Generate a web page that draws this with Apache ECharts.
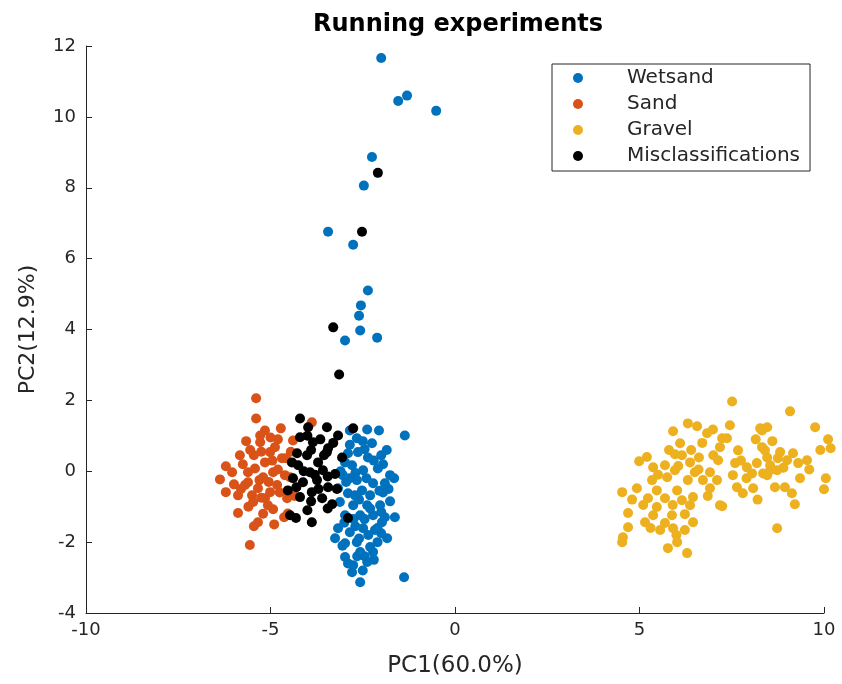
<!DOCTYPE html>
<html>
<head>
<meta charset="utf-8">
<script src="https://cdn.jsdelivr.net/npm/echarts@6/dist/echarts.min.js"></script>
<style>html,body{margin:0;padding:0;background:#fff;}#c{width:842px;height:684px;}</style>
</head>
<body>
<div id="c"></div>
<script>
var seriesNames = ['Wetsand', 'Sand', 'Gravel', 'Misclassifications'];
var xTicks = [-10, -5, 0, 5, 10];
var yTicks = [-4, -2, 0, 2, 4, 6, 8, 10, 12];

var wetsand = [
  [-2.0,11.66],[-1.54,10.45],[-1.30,10.6],[-0.51,10.17],[-2.25,8.87],[-2.47,8.06],
  [-3.44,6.76],[-2.76,6.39],[-2.36,5.1],[-2.55,4.68],[-2.6,4.39],[-2.57,3.97],[-2.98,3.69],[-2.11,3.77],
  [-2.38,1.18],[-2.06,1.15],[-1.36,1.01],[-2.85,1.15],[-2.66,0.93],[-2.25,0.79],[-2.90,0.51],[-2.63,0.54],
  [-2.36,0.39],[-2.09,0.08],[-1.76,-0.11],[-2.79,0.17],[-2.49,0.03],[-3.04,-0.11],[-2.66,-0.25],[-2.22,-0.34],
  [-1.90,-0.34],[-3.17,-0.48],[-2.90,-0.62],[-2.52,-0.54],[-1.76,-0.85],[-3.12,-0.87],[-2.76,-0.96],[-2.38,-0.96],
  [-2.57,-1.24],[-2.22,-1.24],[-1.98,-1.44],[-1.63,-1.30],[-3.17,-1.61],[-2.85,-1.72],[-2.49,-1.61],[-2.17,-1.66],
  [-3.25,-1.89],[-1.84,-1.89],[-2.98,-2.03],[-2.66,-2.00],[-2.30,-2.14],[-2.98,-2.42],[-2.57,-2.28],[-2.22,-2.28],
  [-2.76,-2.65],[-2.38,-2.56],[-2.79,-2.85],[-2.57,-3.13],[-1.38,-2.99],[-2.98,0.25],[-2.71,-0.68],[-2.30,-0.68],
  [-2.03,-0.96],[-2.98,-1.24],[-2.45,0.62],[-2.0,0.45],[-1.95,-0.6],[-2.6,-1.9],[-2.1,-2.0],
  [-2.85,0.75],[-2.5,0.85],[-2.2,0.3],[-1.95,0.2],[-2.7,-0.05],[-2.4,-0.2],[-2.05,-0.55],[-1.8,-0.5],
  [-2.95,-0.3],[-2.6,-0.8],[-2.3,-1.05],[-2.0,-1.15],[-2.75,-1.35],[-2.45,-1.35],[-2.1,-1.6],[-1.9,-1.3],
  [-3.0,-1.45],[-2.7,-1.55],[-2.35,-1.8],[-2.0,-1.75],[-3.05,-2.1],[-2.45,-2.4],[-2.65,-2.4],[-2.9,-2.6],
  [-2.5,-2.8],[-2.2,-2.5],[-3.1,0.0],[-2.85,-0.2],[-1.85,0.6],[-1.65,-0.2]
];
var sand = [
  [-5.39,2.06],[-5.39,1.49],[-5.15,1.15],[-4.72,1.21],[-5.66,0.85],[-5.28,0.82],[-4.88,0.68],[-5.01,0.54],
  [-6.21,0.14],[-6.37,-0.23],[-5.99,-0.37],[-6.21,-0.59],[-5.88,-0.68],[-5.61,-0.31],[-5.42,0.08],[-5.15,0.25],
  [-4.69,0.37],[-4.93,-0.03],[-4.61,-0.11],[-5.34,-0.48],[-5.15,-0.76],[-5.47,-0.87],[-4.93,-1.07],[-5.88,-1.18],
  [-5.34,-1.44],[-4.63,-1.30],[-4.55,-0.76],[-5.56,-2.08],[-5.69,-0.39],[-5.50,-0.68],[-5.20,-0.17],[-4.82,-0.39],
  [-5.01,-0.59],[-5.61,-0.03],[-5.28,1.01],[-4.39,0.87],[-3.88,1.38],[-4.58,0.37],[-4.47,-0.17],[-4.53,-1.19],
  [-5.83,0.45],[-6.04,-0.03],[-5.07,-0.96],[-4.80,0.05],[-5.45,0.45],
  [-5.0,0.95],[-4.8,0.9],[-5.55,0.6],[-5.25,0.55],[-4.95,0.3],[-5.75,0.2],[-5.3,-0.25],[-5.05,-0.3],
  [-5.8,-0.5],[-5.25,-0.75],[-4.75,-0.6],[-5.6,-1.0],[-5.2,-1.2],[-4.9,-1.5],[-5.45,-1.55],[-4.45,0.55],[-4.35,-0.7]
];
var gravel = [
  [6.31,1.35],[6.56,1.27],[6.99,1.18],[5.91,1.13],[6.83,1.07],[6.10,0.79],[7.24,0.93],[7.18,0.68],
  [5.96,0.48],[6.15,0.45],[6.61,0.39],[7.13,0.31],[4.99,0.28],[6.37,0.25],[5.37,0.11],[5.69,0.17],
  [5.96,0.03],[6.50,-0.03],[6.91,-0.03],[5.34,-0.25],[5.75,-0.17],[6.31,-0.25],[6.72,-0.25],[7.10,-0.25],
  [4.53,-0.59],[4.93,-0.48],[5.47,-0.54],[6.02,-0.54],[6.91,-0.48],[6.45,-0.73],[5.23,-0.76],[5.69,-0.76],
  [6.15,-0.82],[6.37,-0.96],[5.47,-1.01],[7.18,-0.96],[4.69,-1.18],[5.37,-1.24],[5.88,-1.24],[6.23,-1.21],
  [5.15,-1.44],[5.69,-1.46],[6.45,-1.44],[4.69,-1.58],[5.56,-1.66],[5.91,-1.61],[6.23,-1.66],[4.55,-1.86],
  [6.02,-2.00],[4.53,-2.00],[5.77,-2.17],[6.29,-2.31],
  [7.51,1.97],[9.08,1.69],[9.76,1.24],[8.27,1.21],[7.45,1.30],[8.46,1.24],[10.11,0.90],[10.18,0.65],
  [7.37,0.93],[7.67,0.59],[8.32,1.15],[8.32,0.68],[8.40,0.59],[8.81,0.54],[9.16,0.51],[9.54,0.31],
  [7.59,0.23],[7.91,0.11],[8.18,0.23],[8.54,0.17],[9.00,0.31],[9.30,0.23],[7.53,-0.11],[8.05,-0.06],
  [8.35,-0.06],[8.73,0.03],[7.64,-0.45],[7.80,-0.62],[8.08,-0.48],[8.67,-0.45],[8.94,-0.45],[9.13,-0.62],
  [10.05,-0.20],[10.0,-0.51],[7.24,-0.99],[9.21,-0.93],[8.73,-1.61],[8.46,0.39],[8.75,0.37],[8.54,0.03],
  [8.46,-0.11],
  [5.2,0.4],[5.5,-0.1],[5.8,0.6],[6.05,0.15],[6.4,0.6],[6.7,0.8],[6.6,0.05],[5.1,-0.95],
  [5.9,-0.95],[5.3,-1.6],[6.0,-1.8],[4.8,-0.8],[6.85,-0.7],[7.0,0.45],[7.75,0.3],[8.15,0.9],
  [8.6,0.85],[8.9,0.1],[9.35,-0.2],[7.9,-0.2],[8.2,-0.8],[9.6,0.05],[9.9,0.6]
];
var misclassifications = [
  [-2.09,8.42],[-2.52,6.76],[-3.3,4.06],[-3.14,2.73],
  [-4.20,1.49],[-3.98,1.24],[-3.47,1.24],[-3.17,1.01],[-2.76,1.21],[-4.20,0.96],[-3.85,0.82],[-3.44,0.65],
  [-4.28,0.51],[-4.01,0.45],[-3.06,0.39],[-3.71,0.25],[-4.25,0.17],[-3.58,0.03],[-3.93,-0.03],[-3.25,-0.08],
  [-4.39,-0.20],[-4.12,-0.31],[-3.74,-0.25],[-3.44,-0.45],[-4.53,-0.54],[-3.88,-0.59],[-4.20,-0.73],[-3.60,-0.76],
  [-3.33,-0.93],[-4.47,-1.24],[-4.31,-1.32],[-3.88,-1.44],[-2.90,-1.32],[-3.47,0.54],[-4.42,0.25],
  [-4.0,1.0],[-3.65,0.9],[-3.3,0.8],[-3.9,0.6],[-3.55,0.45],[-4.1,0.0],[-3.8,-0.1],[-3.45,-0.15],
  [-4.3,-0.45],[-3.7,-0.5],[-3.9,-0.85],[-3.45,-1.05],[-4.0,-1.1],[-3.2,-0.5]
];

var colors = ['#0072BD', '#D95319', '#EDB120', '#000000'];
var dataSets = [wetsand, sand, gravel, misclassifications];
var font = 'DejaVu Sans';
var textColor = '#262626';

var chart = echarts.init(document.getElementById('c'), null, {renderer: 'canvas'});
chart.setOption({
  animation: false,
  backgroundColor: '#ffffff',
  color: colors,
  title: {
    text: 'Running experiments',
    left: 308,
    top: 8,
    textStyle: {fontFamily: font, fontSize: 24, fontWeight: 'bold', color: '#000'}
  },
  legend: {
    orient: 'vertical',
    left: 552,
    top: 64,
    data: seriesNames.map(function (n) { return {name: n, icon: 'circle'}; }),
    itemWidth: 10,
    itemHeight: 10,
    itemGap: 6,
    padding: [4, 10, 5, 21],
    borderColor: '#262626',
    borderWidth: 1,
    backgroundColor: '#fff',
    textStyle: {fontFamily: font, fontSize: 20, color: textColor, lineHeight: 18, padding: [0, 0, 0, 39]}
  },
  grid: {left: 86, right: 18, top: 46, bottom: 71, containLabel: false},
  xAxis: {
    type: 'value',
    min: xTicks[0], max: xTicks[xTicks.length - 1], interval: 5,
    name: 'PC1(60.0%)',
    nameLocation: 'middle',
    nameGap: 42,
    nameTextStyle: {fontFamily: font, fontSize: 23, color: textColor},
    axisLine: {show: true, onZero: false, lineStyle: {color: '#262626', width: 1}},
    axisTick: {show: true, inside: true, length: 6, lineStyle: {color: '#262626'}},
    axisLabel: {fontFamily: font, fontSize: 18, color: textColor, margin: 8},
    splitLine: {show: false}
  },
  yAxis: {
    type: 'value',
    min: yTicks[0], max: yTicks[yTicks.length - 1], interval: 2,
    name: 'PC2(12.9%)',
    nameLocation: 'middle',
    nameGap: 47,
    nameTextStyle: {fontFamily: font, fontSize: 22, color: textColor},
    axisLine: {show: true, onZero: false, lineStyle: {color: '#262626', width: 1}},
    axisTick: {show: true, inside: true, length: 6, lineStyle: {color: '#262626'}},
    axisLabel: {fontFamily: font, fontSize: 18, color: textColor, margin: 10},
    splitLine: {show: false}
  },
  series: seriesNames.map(function (n, i) {
    return {
      name: n,
      type: 'scatter',
      data: dataSets[i],
      symbol: 'circle',
      symbolSize: 10,
      clip: false,
      itemStyle: {color: colors[i], opacity: 1},
      emphasis: {disabled: true}
    };
  })
});
</script>
</body>
</html>
